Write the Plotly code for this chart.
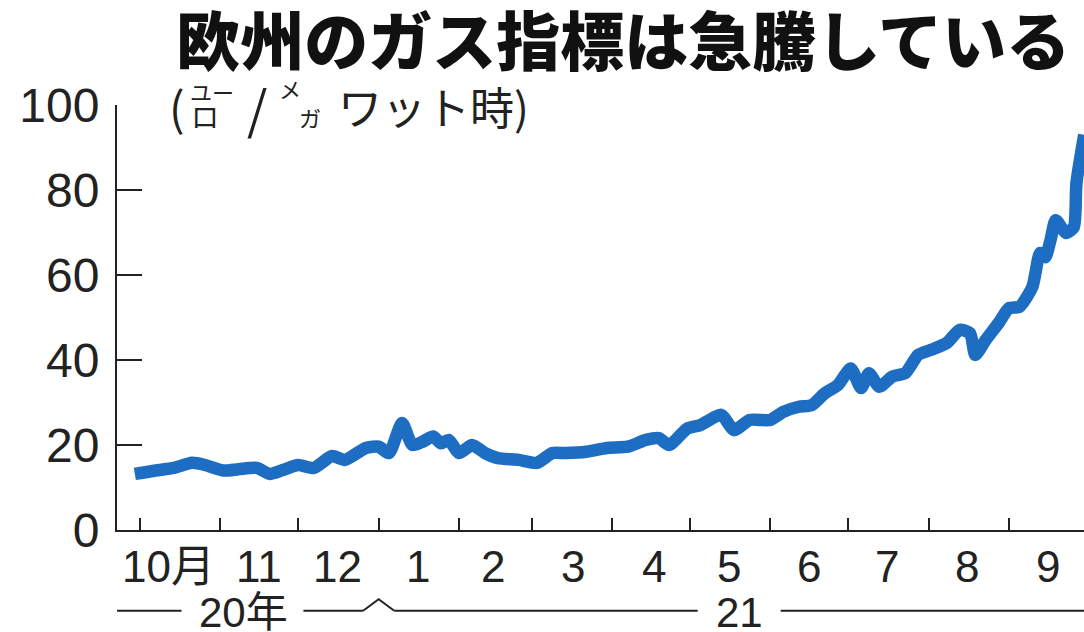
import plotly.graph_objects as go

# ---- data ----
dates = [
    "2020-09-29", "2020-10-07", "2020-10-14", "2020-10-21", "2020-10-26",
    "2020-11-02", "2020-11-08", "2020-11-15", "2020-11-20", "2020-11-25",
    "2020-12-01", "2020-12-07", "2020-12-14", "2020-12-19", "2020-12-27",
    "2021-01-01", "2021-01-05", "2021-01-10", "2021-01-14", "2021-01-18",
    "2021-01-22", "2021-01-25", "2021-01-28", "2021-02-01", "2021-02-06",
    "2021-02-11", "2021-02-16", "2021-02-24", "2021-03-03", "2021-03-09",
    "2021-03-14", "2021-03-22", "2021-03-30", "2021-04-07", "2021-04-14",
    "2021-04-19", "2021-04-23", "2021-04-30", "2021-05-05", "2021-05-13",
    "2021-05-18", "2021-05-24", "2021-06-01", "2021-06-06", "2021-06-12",
    "2021-06-17", "2021-06-22", "2021-06-27", "2021-07-02", "2021-07-06",
    "2021-07-09", "2021-07-13", "2021-07-18", "2021-07-23", "2021-07-28",
    "2021-08-02", "2021-08-08", "2021-08-13", "2021-08-17", "2021-08-19",
    "2021-08-23", "2021-08-28", "2021-09-01", "2021-09-05", "2021-09-10",
    "2021-09-13", "2021-09-15", "2021-09-17", "2021-09-19", "2021-09-23",
    "2021-09-26", "2021-09-27", "2021-09-30",
]
prices = [
    13.2, 14.0, 14.6, 15.8, 15.3,
    14.0, 14.3, 14.6, 13.2, 14.1,
    15.3, 14.6, 17.4, 16.5, 19.3,
    19.6, 18.1, 25.2, 20.0, 20.8,
    22.0, 20.4, 21.2, 18.1, 20.0,
    18.1, 16.9, 16.5, 15.8, 18.1,
    18.1, 18.4, 19.3, 19.6, 21.2,
    21.6, 20.0, 23.9, 24.7, 27.1,
    23.5, 25.9, 25.9, 27.8, 29.0,
    29.4, 32.2, 34.1, 38.0, 33.4,
    36.9, 33.7, 36.1, 36.9, 41.2,
    42.4, 44.0, 47.1, 46.3, 41.2,
    44.7, 48.7, 52.2, 52.5, 57.2,
    65.2, 64.2, 68.2, 72.9, 69.9,
    71.3, 81.6, 93.0,
]

month_ticks = [
    "2020-10-01", "2020-11-01", "2020-12-01", "2021-01-01", "2021-02-01",
    "2021-03-01", "2021-04-01", "2021-05-01", "2021-06-01", "2021-07-01",
    "2021-08-01", "2021-09-01",
]
month_label_pos = [
    "2020-10-12", "2020-11-16", "2020-12-16", "2021-01-16", "2021-02-14",
    "2021-03-17", "2021-04-17", "2021-05-16", "2021-06-16", "2021-07-16",
    "2021-08-16", "2021-09-16",
]
month_labels = ["10月", "11", "12", "1", "2", "3", "4", "5", "6", "7", "8", "9"]

y_ticks = [0, 20, 40, 60, 80, 100]

title_text = "欧州のガス指標は急騰している"
# unit label pieces: (text, paper x, paper y, anchor, font size)
unit_parts = [
    ("(", 0.062, 0.997, "center", 46),
    ("ユー", 0.0982, 1.033, "center", 22),
    ("ロ", 0.091, 0.975, "center", 28),
    ("/", 0.1448, 0.997, "center", 52),
    ("メ", 0.179, 1.040, "center", 22),
    ("ガ", 0.1996, 0.972, "center", 22),
    ("ワット時)", 0.2265, 0.998, "left", 44),
]

LINE_BLUE = "#1d6dc3"
INK = "#222222"
NUM_FONT = "Liberation Sans, Noto Sans CJK JP, sans-serif"

fig = go.Figure()
fig.add_trace(go.Scatter(
    x=dates, y=prices, mode="lines",
    line=dict(color=LINE_BLUE, width=12.5, shape="spline", smoothing=0.6),
    hoverinfo="skip", showlegend=False,
))

fig.update_layout(
    width=1084, height=632,
    margin=dict(l=117, r=0, t=105, b=102),
    paper_bgcolor="white", plot_bgcolor="white",
    showlegend=False,
    title=dict(
        text=title_text,
        x=0.575, xanchor="center", y=0.932, yanchor="middle",
        font=dict(family="Noto Sans CJK JP", size=64, color="#111111", weight=900),
    ),
)

fig.update_xaxes(
    type="date",
    range=["2020-09-22 03:00", "2021-09-29 22:00"],
    tickvals=month_ticks, showticklabels=False,
    ticks="inside", ticklen=12, tickwidth=2, tickcolor=INK,
    showline=True, linewidth=2, linecolor=INK,
    showgrid=False, zeroline=False,
)
fig.update_yaxes(
    range=[0, 100],
    tickvals=y_ticks,
    ticks="inside", ticklen=25, tickwidth=2, tickcolor=INK,
    showline=True, linewidth=2, linecolor=INK,
    showgrid=False, zeroline=False,
    tickfont=dict(family=NUM_FONT, size=48, color=INK),
    ticklabelstandoff=6,
)

# month labels
for pos, lab in zip(month_label_pos, month_labels):
    fig.add_annotation(
        x=pos, y=-0.085, xref="x", yref="paper",
        text=lab, showarrow=False, xanchor="center", yanchor="middle",
        font=dict(family=NUM_FONT, size=44, color=INK),
    )

# year row
YR = -0.19
seg_style = dict(color=INK, width=2)
fig.add_shape(type="line", xref="x", yref="paper", x0="2020-09-22", x1="2020-10-17", y0=YR, y1=YR, line=seg_style)
fig.add_shape(type="line", xref="x", yref="paper", x0="2020-12-03", x1="2020-12-26", y0=YR, y1=YR, line=seg_style)
fig.add_shape(type="path", xref="x", yref="paper",
              path=f"M 2020-12-26,{YR} L 2021-01-01,{YR + 0.027} L 2021-01-07,{YR}",
              line=seg_style)
fig.add_shape(type="line", xref="x", yref="paper", x0="2021-01-07", x1="2021-05-04", y0=YR, y1=YR, line=seg_style)
fig.add_shape(type="line", xref="x", yref="paper", x0="2021-06-05", x1="2021-09-30", y0=YR, y1=YR, line=seg_style)
fig.add_annotation(x="2020-11-10", y=YR - 0.005, xref="x", yref="paper", text="20年", showarrow=False,
                   xanchor="center", yanchor="middle", font=dict(family=NUM_FONT, size=42, color=INK))
fig.add_annotation(x="2021-05-20", y=YR - 0.005, xref="x", yref="paper", text="21", showarrow=False,
                   xanchor="center", yanchor="middle", font=dict(family=NUM_FONT, size=42, color=INK))

# unit label
for txt, px, py, anc, sz in unit_parts:
    fig.add_annotation(
        x=px, y=py, xref="paper", yref="paper", text=txt, showarrow=False,
        xanchor=anc, yanchor="middle",
        font=dict(family="Noto Sans CJK JP", size=sz, color=INK),
    )

fig.write_html("out.html")
